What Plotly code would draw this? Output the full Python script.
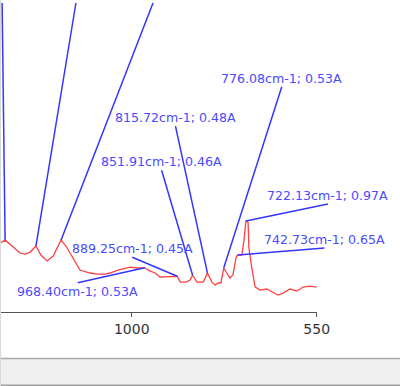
import plotly.graph_objects as go

# Spectrum (wavenumber cm-1, absorbance A)
wavenumber = [1325, 1308, 1291, 1272, 1260, 1247, 1233, 1221, 1206, 1191, 1172, 1160, 1150,
              1138, 1126, 1101, 1084, 1065, 1053, 1033, 1016, 1004, 987, 968.40, 955, 943,
              931, 914, 902, 889.25, 882, 868, 858, 851.91, 841, 826, 815.72, 804, 797, 790,
              783, 776.08, 766, 761, 754, 746, 742.73, 732, 727, 722.13, 717, 715, 708, 700,
              688, 671, 657, 644, 632, 615, 598, 583, 566, 550]
absorbance = [0.75, 0.79, 0.735, 0.669, 0.659, 0.678, 0.735, 0.650, 0.594, 0.641, 0.79, 0.735, 0.669,
              0.584, 0.509, 0.481, 0.471, 0.471, 0.481, 0.509, 0.528, 0.537, 0.528, 0.53, 0.499, 0.481,
              0.443, 0.443, 0.443, 0.45, 0.396, 0.396, 0.415, 0.46, 0.396, 0.396, 0.48, 0.39, 0.368, 0.387,
              0.387, 0.53, 0.462, 0.434, 0.462, 0.631, 0.65, 0.65, 0.79, 0.97, 0.96, 0.72, 0.53, 0.35,
              0.32, 0.33, 0.30, 0.274, 0.292, 0.33, 0.311, 0.349, 0.358, 0.349]

# Labelled peaks
peak_wn = [722.13, 742.73, 776.08, 815.72, 851.91, 889.25, 968.40]
peak_a = [0.97, 0.65, 0.53, 0.48, 0.46, 0.45, 0.53]
# Peaks whose labels lie above the visible area
hidden_peak_wn = [1308, 1233, 1172]
hidden_peak_a = [0.79, 0.735, 0.79]

tick_vals = [1000, 550]
tick_text = ["1000", "550"]

# label placement (pixel offsets from the peak)
label_dx = [82, 87, 58, -32, -31, -45, -67]
label_dy = [-17, -7, -181, -147, -105, -19, 15]
label_anchor = ["bottom", "bottom", "bottom", "bottom", "bottom", "bottom", "top"]
hidden_dx = [-3, 40, 92]
hidden_dy = [-360, -366, -360]

fig = go.Figure()
fig.add_trace(go.Scatter(x=wavenumber, y=absorbance, mode="lines",
                         line=dict(color="#ff4040", width=1.3), hoverinfo="skip"))

annotations = []
for wn, a, dx, dy, anc in zip(peak_wn, peak_a, label_dx, label_dy, label_anchor):
    annotations.append(dict(
        x=wn, y=a, xref="x", yref="y", text=f"{wn:.2f}cm-1; {a:.2f}A",
        showarrow=True, arrowhead=0, arrowwidth=1.5, arrowcolor="#3535ff",
        ax=dx, ay=dy, standoff=0, yanchor=anc, xanchor="center",
        font=dict(family="DejaVu Sans", size=12.6, color="#4a4aff"), borderpad=0))
for wn, a, dx, dy in zip(hidden_peak_wn, hidden_peak_a, hidden_dx, hidden_dy):
    annotations.append(dict(
        x=wn, y=a, xref="x", yref="y", text=" ",
        showarrow=True, arrowhead=0, arrowwidth=1.5, arrowcolor="#3535ff",
        ax=dx, ay=dy, standoff=0, yanchor="bottom",
        font=dict(family="DejaVu Sans", size=12, color="#4a4aff")))

shapes = [
    dict(type="rect", xref="paper", yref="paper", x0=-0.01, x1=1.3, y0=-0.25, y1=-0.1474,
         fillcolor="#f0f0f0", line=dict(width=0), layer="below"),
    dict(type="line", xref="paper", yref="paper", x0=-0.01, x1=1.3, y0=-0.149, y1=-0.149,
         line=dict(color="#a8a8a8", width=1.5)),
    dict(type="line", xref="paper", yref="paper", x0=-0.01, x1=1.3, y0=-0.2356, y1=-0.2356,
         line=dict(color="#a0a0a0", width=2)),
    dict(type="line", xref="paper", yref="paper", x0=0.0016, x1=0.0016, y0=-0.25, y1=1.01,
         line=dict(color="#d8d8d8", width=1)),
]

fig.update_layout(
    width=400, height=386,
    margin=dict(l=0, r=83, t=0, b=74),
    paper_bgcolor="white", plot_bgcolor="white",
    showlegend=False,
    annotations=annotations,
    shapes=shapes,
    xaxis=dict(range=[1320.4, 549.3], tickvals=tick_vals, ticktext=tick_text,
               ticks="outside", ticklen=4, tickcolor="#555555", tickwidth=1,
               showline=True, linecolor="#555555", linewidth=1, showgrid=False, zeroline=False,
               tickfont=dict(family="DejaVu Sans", size=14, color="#333333")),
    yaxis=dict(range=[0.114, 3.05], visible=False, showgrid=False, zeroline=False),
)

fig.write_html("out.html", post_script="document.body.style.margin='0';",
               config={"displayModeBar": False})
